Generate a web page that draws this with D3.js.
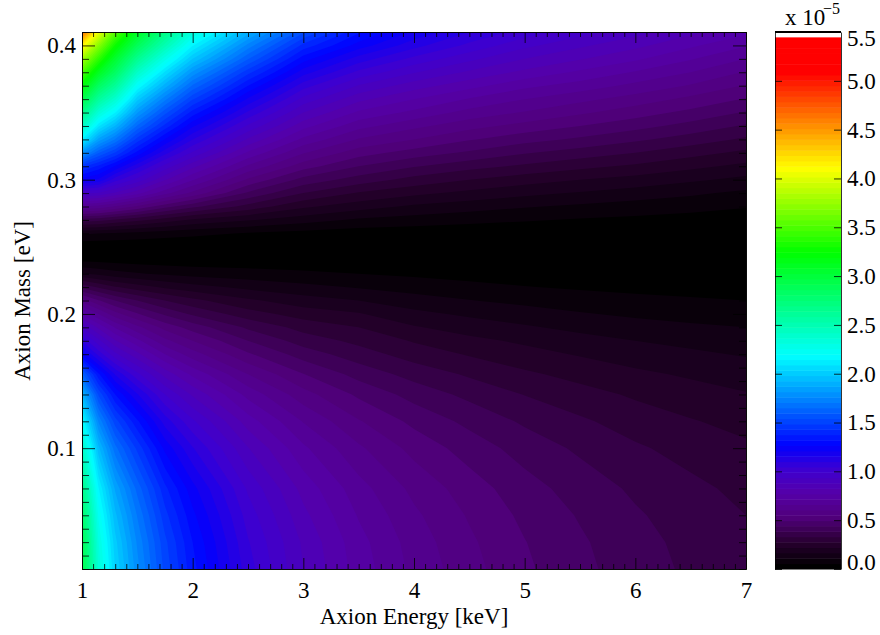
<!DOCTYPE html>
<html>
<head>
<meta charset="utf-8">
<script src="https://cdn.jsdelivr.net/npm/d3@7"></script>
<style>
  html, body { margin: 0; padding: 0; background: #fff; }
  text { font-family: "Liberation Serif", serif; fill: #000; }
  .tick line, .domain { stroke: #000; stroke-width: 0.8; }
</style>
</head>
<body>
<div id="chart"></div>
<script>
// Grid (units of 1e-5), one row per mass
var energies = [1, 1.15, 1.3, 1.5, 1.75, 2, 2.5, 3, 3.5, 4, 4.5, 5, 5.5, 6, 6.5, 7];
var masses = [0.01, 0.03, 0.05, 0.07, 0.10, 0.12, 0.14, 0.155, 0.17, 0.18, 0.19, 0.20, 0.21, 0.22, 0.23, 0.24, 0.246,
  0.25, 0.26, 0.27, 0.28, 0.29, 0.30, 0.31, 0.32, 0.33, 0.34, 0.35, 0.36, 0.37, 0.38, 0.39, 0.40, 0.41];
var rows = [
  [2.95, 2.35, 2.03, 1.78, 1.52, 1.34, 1.07, 0.88, 0.745, 0.645, 0.57, 0.505, 0.455, 0.41, 0.375, 0.345],
  [2.91, 2.31, 2.0, 1.75, 1.5, 1.32, 1.05, 0.87, 0.735, 0.635, 0.56, 0.497, 0.448, 0.404, 0.369, 0.34],
  [2.82, 2.24, 1.94, 1.7, 1.45, 1.28, 1.02, 0.84, 0.71, 0.616, 0.544, 0.482, 0.435, 0.392, 0.358, 0.33],
  [2.7, 2.15, 1.86, 1.63, 1.39, 1.23, 0.98, 0.805, 0.682, 0.59, 0.522, 0.462, 0.416, 0.375, 0.343, 0.316],
  [2.43, 1.94, 1.67, 1.47, 1.25, 1.105, 0.883, 0.726, 0.615, 0.532, 0.47, 0.417, 0.375, 0.338, 0.31, 0.285],
  [2.2, 1.75, 1.51, 1.33, 1.13, 1.0, 0.797, 0.656, 0.555, 0.48, 0.425, 0.376, 0.339, 0.305, 0.279, 0.257],
  [1.92, 1.53, 1.32, 1.16, 0.99, 0.87, 0.696, 0.572, 0.484, 0.419, 0.37, 0.328, 0.296, 0.267, 0.244, 0.224],
  [1.62, 1.33, 1.15, 1.005, 0.86, 0.757, 0.605, 0.497, 0.42, 0.364, 0.322, 0.285, 0.257, 0.232, 0.212, 0.195],
  [1.25, 1.08, 0.95, 0.84, 0.715, 0.63, 0.503, 0.414, 0.355, 0.305, 0.27, 0.24, 0.215, 0.193, 0.175, 0.16],
  [1.09, 0.95, 0.83, 0.73, 0.62, 0.55, 0.44, 0.36, 0.315, 0.27, 0.235, 0.21, 0.185, 0.165, 0.15, 0.135],
  [0.93, 0.81, 0.71, 0.62, 0.53, 0.47, 0.375, 0.31, 0.275, 0.225, 0.195, 0.172, 0.15, 0.133, 0.12, 0.11],
  [0.76, 0.66, 0.57, 0.5, 0.43, 0.375, 0.3, 0.25, 0.225, 0.18, 0.155, 0.135, 0.115, 0.1, 0.09, 0.083],
  [0.58, 0.5, 0.44, 0.385, 0.33, 0.29, 0.23, 0.19, 0.165, 0.135, 0.112, 0.095, 0.08, 0.07, 0.062, 0.055],
  [0.37, 0.32, 0.28, 0.245, 0.21, 0.185, 0.15, 0.125, 0.105, 0.085, 0.07, 0.057, 0.048, 0.04, 0.035, 0.03],
  [0.17, 0.15, 0.13, 0.115, 0.1, 0.09, 0.078, 0.067, 0.055, 0.045, 0.036, 0.03, 0.024, 0.02, 0.016, 0.013],
  [0.045, 0.04, 0.035, 0.03, 0.026, 0.023, 0.02, 0.016, 0.012, 0.01, 0.008, 0.006, 0.005, 0.004, 0.0035, 0.003],
  [0, 0, 0, 0, 0, 0, 0, 0, 0, 0, 0, 0, 0, 0, 0, 0],
  [0.01, 0.01, 0.009, 0.008, 0.006, 0.005, 0.004, 0.003, 0.002, 0.002, 0.002, 0.002, 0.001, 0.001, 0.001, 0.001],
  [0.12, 0.11, 0.105, 0.095, 0.08, 0.07, 0.05, 0.035, 0.025, 0.022, 0.019, 0.016, 0.013, 0.011, 0.009, 0.008],
  [0.36, 0.35, 0.32, 0.29, 0.25, 0.21, 0.17, 0.135, 0.1, 0.085, 0.07, 0.06, 0.05, 0.042, 0.035, 0.03],
  [0.66, 0.64, 0.6, 0.54, 0.46, 0.4, 0.31, 0.23, 0.19, 0.155, 0.135, 0.115, 0.1, 0.085, 0.072, 0.058],
  [0.95, 0.93, 0.87, 0.79, 0.68, 0.59, 0.43, 0.33, 0.27, 0.235, 0.205, 0.18, 0.16, 0.14, 0.12, 0.098],
  [1.24, 1.2, 1.07, 0.97, 0.83, 0.72, 0.54, 0.42, 0.36, 0.31, 0.275, 0.245, 0.22, 0.2, 0.175, 0.15],
  [1.45, 1.36, 1.26, 1.12, 0.97, 0.84, 0.65, 0.52, 0.44, 0.39, 0.35, 0.32, 0.29, 0.265, 0.235, 0.205],
  [1.8, 1.6, 1.48, 1.3, 1.12, 0.98, 0.76, 0.61, 0.52, 0.47, 0.43, 0.39, 0.36, 0.33, 0.295, 0.262],
  [2.14, 1.85, 1.7, 1.46, 1.26, 1.1, 0.87, 0.7, 0.6, 0.55, 0.5, 0.46, 0.43, 0.395, 0.36, 0.32],
  [2.45, 2.1, 1.92, 1.64, 1.41, 1.22, 0.98, 0.79, 0.68, 0.62, 0.57, 0.53, 0.495, 0.46, 0.42, 0.378],
  [2.7, 2.35, 2.15, 1.82, 1.56, 1.35, 1.09, 0.88, 0.76, 0.7, 0.64, 0.6, 0.56, 0.52, 0.48, 0.435],
  [2.95, 2.6, 2.38, 2.0, 1.72, 1.49, 1.2, 0.97, 0.84, 0.77, 0.71, 0.66, 0.62, 0.58, 0.535, 0.49],
  [3.22, 2.85, 2.62, 2.2, 1.9, 1.64, 1.32, 1.07, 0.93, 0.85, 0.79, 0.73, 0.69, 0.645, 0.6, 0.545],
  [3.5, 3.12, 2.85, 2.42, 2.08, 1.8, 1.45, 1.18, 1.03, 0.94, 0.87, 0.81, 0.76, 0.71, 0.66, 0.6],
  [3.8, 3.4, 3.05, 2.65, 2.28, 1.98, 1.6, 1.29, 1.13, 1.03, 0.95, 0.88, 0.83, 0.78, 0.72, 0.66],
  [4.15, 3.7, 3.28, 2.88, 2.5, 2.15, 1.74, 1.41, 1.24, 1.12, 1.03, 0.95, 0.89, 0.84, 0.78, 0.72],
  [4.7, 4.05, 3.55, 3.1, 2.7, 2.33, 1.9, 1.55, 1.33, 1.2, 1.1, 1.02, 0.96, 0.9, 0.84, 0.785]
];

var energyTicks = [1, 2, 3, 4, 5, 6, 7];
var massTicks = [0.1, 0.2, 0.3, 0.4];
var barTicks = [0, 0.5, 1, 1.5, 2, 2.5, 3, 3.5, 4, 4.5, 5, 5.5];

var levelStep = 0.055;
var levels = d3.range(0, 100).map(k => k * levelStep);

// Colour table
var colourValues = [0, 0.25, 0.5, 0.75, 1, 1.24, 2.16, 3.22, 4.08, 5.06, 5.5];
var colourStops = ["#000000", "#28002f", "#50007a", "#5500a8", "#3c00d2", "#0000ff", "#00ffff", "#00ff00", "#ffff00", "#ff0000", "#ff0000"];

var svgWidth = 880;
var svgHeight = 635;
var plot = { left: 82, right: 746, top: 32, bottom: 569 };
var bar = { left: 775, right: 841, top: 32, bottom: 569 };

var svg = d3.select("#chart").append("svg")
  .attr("width", svgWidth)
  .attr("height", svgHeight)
  .style("display", "block");

var x = d3.scaleLinear().domain([1, 7]).range([plot.left, plot.right]);
var y = d3.scaleLinear().domain([0.01, 0.41]).range([plot.bottom, plot.top]);
var barY = d3.scaleLinear().domain([0, 5.5]).range([bar.bottom, bar.top]);
var colour = d3.scaleLinear().domain(colourValues).range(colourStops);

// grid index -> data value, the grid is not evenly spaced
var xIndex = d3.scaleLinear().domain(d3.range(energies.length)).range(energies).clamp(true);
var yIndex = d3.scaleLinear().domain(d3.range(masses.length)).range(masses).clamp(true);

var contours = d3.contours()
  .size([energies.length, masses.length])
  .thresholds(levels)(rows.flat());

function toPixels(geom) {
  return {
    type: geom.type,
    coordinates: geom.coordinates.map(poly => poly.map(ring => ring.map(p => [
      x(xIndex(p[0] - 0.5)),
      y(yIndex(p[1] - 0.5))
    ])))
  };
}

svg.append("clipPath").attr("id", "plotClip").append("rect")
  .attr("x", plot.left).attr("y", plot.top)
  .attr("width", plot.right - plot.left).attr("height", plot.bottom - plot.top);

var path = d3.geoPath();

svg.append("g").attr("clip-path", "url(#plotClip)")
  .selectAll("path")
  .data(contours)
  .enter()
  .append("path")
  .attr("d", d => path(toPixels(d)))
  .attr("fill", d => colour(d.value));

// colour bar, one rect per level, stops a little under the top
svg.append("g").selectAll("rect")
  .data(levels.slice(0, 99))
  .enter()
  .append("rect")
  .attr("x", bar.left)
  .attr("width", bar.right - bar.left)
  .attr("y", d => barY(d + levelStep))
  .attr("height", d => barY(d) - barY(d + levelStep) + 0.5)
  .attr("fill", d => colour(d));

function addTicks(axisFn, scale, values, size, translate, labels) {
  var axis = axisFn(scale)
    .tickValues(values)
    .tickSizeInner(-size)
    .tickSizeOuter(0);
  if (!labels) axis.tickFormat("");
  else axis.tickFormat(labels.format).tickPadding(labels.padding);
  return svg.append("g")
    .attr("transform", `translate(${translate[0]}, ${translate[1]})`)
    .call(axis);
}

var energyMinor = d3.range(1, 7.001, 0.1).map(v => +v.toFixed(1)).filter(v => !energyTicks.includes(v));
var massMinor = d3.range(0.01, 0.411, 0.01).map(v => +v.toFixed(2)).filter(v => !massTicks.includes(v));

// main frame: major and minor ticks on all four sides
var xLabels = addTicks(d3.axisBottom, x, energyTicks, 11, [0, plot.bottom], { format: d3.format("d"), padding: 13 });
addTicks(d3.axisBottom, x, energyMinor, 5, [0, plot.bottom]);
addTicks(d3.axisTop, x, energyTicks, 11, [0, plot.top]);
addTicks(d3.axisTop, x, energyMinor, 5, [0, plot.top]);
var yLabels = addTicks(d3.axisLeft, y, massTicks, 13, [plot.left, 0], { format: d3.format(".1f"), padding: 6 });
addTicks(d3.axisLeft, y, massMinor, 7, [plot.left, 0]);
addTicks(d3.axisRight, y, massTicks, 13, [plot.right, 0]);
addTicks(d3.axisRight, y, massMinor, 7, [plot.right, 0]);

// colour bar frame
addTicks(d3.axisLeft, barY, barTicks, 7, [bar.left, 0]);
var barLabels = addTicks(d3.axisRight, barY, barTicks, 7, [bar.right, 0], { format: d3.format(".1f"), padding: 6 });

svg.append("line")
  .attr("x1", bar.left).attr("x2", bar.right)
  .attr("y1", bar.top).attr("y2", bar.top)
  .attr("stroke", "#000").attr("stroke-width", 2);

[xLabels, yLabels, barLabels].forEach(g => g.selectAll("text").style("font-size", "23px").style("font-family", '"Liberation Serif", serif'));

// end labels of the colour bar are pushed inside
barLabels.selectAll("text").attr("dy", d => d === 5.5 ? "0.6em" : d === 0 ? "0em" : "0.32em");

svg.append("text")
  .attr("x", (plot.left + plot.right) / 2)
  .attr("y", 624)
  .attr("text-anchor", "middle")
  .style("font-size", "23px")
  .text("Axion Energy [keV]");

svg.append("text")
  .attr("transform", "rotate(-90)")
  .attr("x", -301)
  .attr("y", 30)
  .attr("text-anchor", "middle")
  .style("font-size", "23px")
  .text("Axion Mass [eV]");

svg.append("text")
  .attr("x", 785).attr("y", 25)
  .style("font-size", "23px")
  .text("x 10");

svg.append("text")
  .attr("x", 823).attr("y", 14)
  .style("font-size", "16px")
  .text("\u22125");
</script>
</body>
</html>
